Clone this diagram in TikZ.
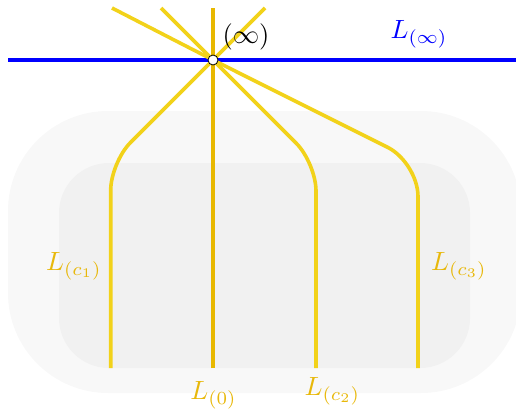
\documentclass[tikz,border=0pt]{standalone}
\definecolor{outerbg}{HTML}{F8F8F8}
\definecolor{innerbg}{HTML}{F1F1F1}
\definecolor{ylw}{HTML}{F2D21A}
\definecolor{ylwdark}{HTML}{E8B800}
\definecolor{lbl}{HTML}{E8B80A}
\newcommand{\bigtxt}[1]{\scalebox{2.64}{#1}}
\begin{document}
\begin{tikzpicture}[x=1pt,y=-1pt,
  curve/.style={draw=ylw,line width=3.6pt,rounded corners=28pt},
  lab/.style={text=lbl,inner sep=0pt},
  pt/.style={circle,draw=black,fill=white,line width=0.8pt,minimum size=10pt,inner sep=0pt}]
\useasboundingbox (0,0) rectangle (516,412);
\fill[outerbg,rounded corners=100pt] (8,111) rectangle (521,393);
\fill[innerbg,rounded corners=50pt] (59,163) rectangle (470,368);
% blue line
\coordinate (bl) at (8,60);
\coordinate (br) at (516,60);
\draw[blue,line width=4pt] (bl) -- (br);
% coordinates
\coordinate (O) at (213,60);
\coordinate (c1b) at (110.7,368);
\coordinate (c1k) at (110.7,162.3);
\coordinate (c1t) at (265,8);
\coordinate (zb) at (213,368);
\coordinate (zt) at (213,8);
\coordinate (c2b) at (316,368);
\coordinate (c2k) at (316,163);
\coordinate (c2t) at (161,8);
\coordinate (c3b) at (418,368);
\coordinate (c3k) at (418,162.5);
\coordinate (c3t) at (112,8);
\draw[curve] (c1b) -- (c1k) -- (O) -- (c1t);
\draw[curve] (c2b) -- (c2k) -- (O) -- (c2t);
\draw[curve,rounded corners=34pt] (c3b) -- (c3k) -- (O) -- (c3t);
\draw[draw=ylwdark,line width=3.6pt] (zb) -- (zt);
\node[pt] (P) at (O) {};
% labels
\node[lab] (l1) at (74,266) {\bigtxt{$L_{(c_1)}$}};
\node[lab] (l0) at (213.5,395) {\bigtxt{$L_{(0)}$}};
\node[lab] (l2) at (332.5,391) {\bigtxt{$L_{(c_2)}$}};
\node[lab] (l3) at (459,266) {\bigtxt{$L_{(c_3)}$}};
\node[inner sep=0pt] (inf) at (246,36.5) {\bigtxt{$(\infty)$}};
\node[inner sep=0pt,text=blue] (linf) at (419,34) {\bigtxt{$L_{(\infty)}$}};
\end{tikzpicture}
\end{document}
